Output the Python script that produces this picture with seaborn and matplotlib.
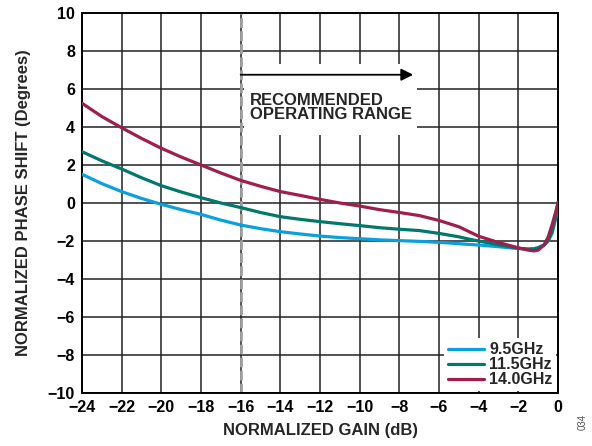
import matplotlib
matplotlib.use("Agg")
import matplotlib.pyplot as plt
import matplotlib.patches as mpatches
import seaborn as sns
import numpy as np
import pandas as pd

# normalized gain (dB)
gain = [-24, -23, -22, -21, -20, -19, -18, -17, -16, -15, -14, -13, -12,
        -11, -10, -9, -8, -7, -6, -5, -4.5, -4, -3, -2, -1.5, -1.2, -1.0, -0.7,
        -0.5, -0.3, -0.1, 0.0]

# normalized phase shift (degrees)
phase_9_5 = [1.51, 1.02, 0.60, 0.24, -0.07, -0.35, -0.60, -0.90, -1.16, -1.35,
             -1.51, -1.63, -1.74, -1.82, -1.88, -1.94, -1.98, -2.02, -2.07,
             -2.14, -2.18, -2.21, -2.30, -2.40, -2.42, -2.40, -2.34, -2.20, -2.00,
             -1.60, -0.75, 0.0]
phase_11_5 = [2.70, 2.22, 1.79, 1.33, 0.91, 0.58, 0.28, 0.00, -0.24, -0.50,
              -0.72, -0.86, -0.98, -1.09, -1.19, -1.30, -1.38, -1.45, -1.60,
              -1.78, -1.90, -2.00, -2.20, -2.38, -2.43, -2.42, -2.38, -2.22, -2.00,
              -1.50, -0.65, 0.0]
phase_14_0 = [5.25, 4.55, 3.96, 3.40, 2.88, 2.42, 2.00, 1.58, 1.19, 0.88,
              0.60, 0.40, 0.19, 0.00, -0.16, -0.35, -0.50, -0.66, -0.92,
              -1.25, -1.50, -1.75, -2.08, -2.36, -2.48, -2.52, -2.48, -2.20, -1.80,
              -1.15, -0.40, 0.05]

labels = ["9.5GHz", "11.5GHz", "14.0GHz"]
colors = ["#0aa0dc", "#00786c", "#a01e4c"]

df = pd.concat([
    pd.DataFrame({"gain": gain, "phase": phase_9_5, "freq": labels[0]}),
    pd.DataFrame({"gain": gain, "phase": phase_11_5, "freq": labels[1]}),
    pd.DataFrame({"gain": gain, "phase": phase_14_0, "freq": labels[2]}),
])

sns.set_theme(style="white")
plt.rcParams['font.family'] = ['Liberation Sans', 'DejaVu Sans']
plt.rcParams['font.weight'] = 'bold'

fig = plt.figure(figsize=(5.92, 4.46), dpi=100)
ax = fig.add_axes([0.1385, 0.1188, 0.8041, 0.8521])

# grid
for v in range(-24, 1, 2):
    ax.axvline(v, color="#222222", lw=1.1, zorder=0.5)
for v in range(-10, 11, 2):
    ax.axhline(v, color="#222222", lw=1.1, zorder=0.5)

# white box behind the annotation
ax.add_patch(mpatches.Rectangle((-15.85, 3.6), 8.75, 3.7, facecolor="white",
                                edgecolor="none", zorder=0.8))

sns.lineplot(data=df, x="gain", y="phase", hue="freq", palette=colors,
             linewidth=2.3, ax=ax, zorder=3, sort=False)

ax.axvline(-16, color="#a0a0a0", lw=2.0, ls=(0, (3.5, 1.2)), zorder=2)

ax.annotate("", xy=(-7.3, 6.75), xytext=(-16, 6.75),
            arrowprops=dict(arrowstyle="-|>", color="black", lw=1.3,
                            mutation_scale=18, shrinkA=0, shrinkB=0), zorder=4)
ax.text(-15.55, 5.05, "RECOMMENDED\nOPERATING RANGE", fontsize=12,
        fontweight="bold", ha="left", va="center", linespacing=0.92, zorder=4)

ax.set_xlim(-24, 0)
ax.set_ylim(-10, 10)
ax.set_xticks(range(-24, 1, 2))
ax.set_yticks(range(-10, 11, 2))
ax.tick_params(length=0, labelsize=11.5, pad=5, colors="black")
for lab in ax.get_xticklabels() + ax.get_yticklabels():
    lab.set_fontweight("bold")
for s in ax.spines.values():
    s.set_color("black")
    s.set_linewidth(1.4)

ax.set_xlabel("NORMALIZED GAIN (dB)", fontsize=12, fontweight="bold", labelpad=6)
ax.set_ylabel("NORMALIZED PHASE SHIFT (Degrees)", fontsize=12, fontweight="bold",
              labelpad=12)

leg = ax.legend(loc="lower right", fontsize=11.5, frameon=True, fancybox=False,
                framealpha=1, edgecolor="none", handlelength=2.3,
                handletextpad=0.3, labelspacing=0.0, borderpad=0.25,
                borderaxespad=0.1)
leg.get_frame().set_linewidth(0)
for t in leg.get_texts():
    t.set_fontweight("bold")

fig.text(0.985, 0.035, "034", rotation=90, fontsize=7, color="#555555",
         ha="center", va="bottom", fontweight="normal")

fig.savefig("out.png", dpi=100)
